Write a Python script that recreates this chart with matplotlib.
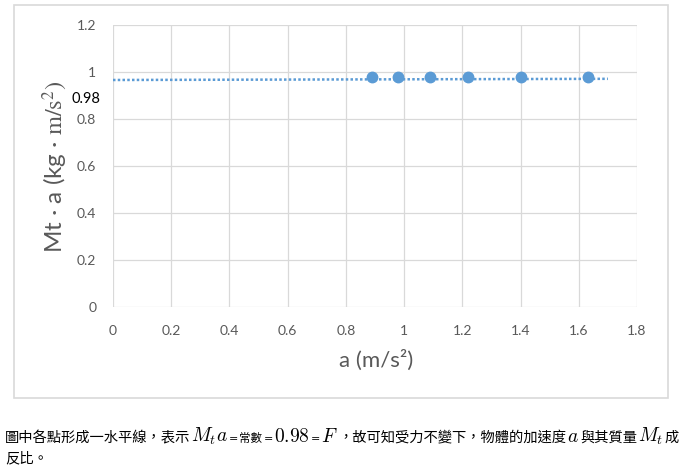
import matplotlib
matplotlib.use("Agg")
import matplotlib.pyplot as plt
from matplotlib.patches import Rectangle

# ---- data ----
accel = [0.89, 0.98, 1.09, 1.22, 1.40, 1.63]
force = [0.98, 0.98, 0.98, 0.98, 0.98, 0.98]
trend_x = [0.0, 1.7]
trend_y = [0.966, 0.971]
x_ticks = [0, 0.2, 0.4, 0.6, 0.8, 1.0, 1.2, 1.4, 1.6, 1.8]
x_tick_labels = ["0", "0.2", "0.4", "0.6", "0.8", "1", "1.2", "1.4", "1.6", "1.8"]
y_ticks = [0, 0.2, 0.4, 0.6, 0.8, 1.0, 1.2]
y_tick_labels = ["0", "0.2", "0.4", "0.6", "0.8", "1", "1.2"]
value_label = "0.98"
x_label = "a (m/s²)"
y_label = r"Mt · a (kg · $\mathrm{m/s^2)}$"
caption_line1 = [
    "圖中各點形成一水平線，表示", r"$M_t a$", "=", "常數", "=", r"$0.98$", "=",
    r"$F$", "，故可知受力不變下，物體的加速度", r"$a$", "與其質量", r"$M_t$", "成",
]
caption_line2 = ["反比。"]

W, H = 688, 468
fig = plt.figure(figsize=(W / 100, H / 100), dpi=100)
fig.patch.set_facecolor("white")

# outer chart frame
fig.add_artist(Rectangle((14 / W, 1 - 398 / H), (668 - 14) / W, (398 - 5) / H,
                         transform=fig.transFigure, facecolor="white",
                         edgecolor="#d9d9d9", linewidth=1.2, zorder=0))

ax = fig.add_axes([113 / W, 1 - 307 / H, (637 - 113) / W, (307 - 25) / H])
ax.set_facecolor("none")
ax.set_xlim(0, 1.8)
ax.set_ylim(0, 1.2)
ax.set_xticks(x_ticks)
ax.set_xticklabels(x_tick_labels)
ax.set_yticks(y_ticks)
ax.set_yticklabels(y_tick_labels)
for s in ax.spines.values():
    s.set_visible(False)
ax.grid(True, color="#d9d9d9", linewidth=0.9)
ax.set_axisbelow(True)
ax.tick_params(length=0, labelsize=10, labelcolor="#595959", pad=12)
for lab in ax.get_xticklabels() + ax.get_yticklabels():
    lab.set_family("Lato")
ax.tick_params(axis="x", pad=13)

blue = "#5b9bd5"
ax.plot(trend_x, trend_y, color=blue, linewidth=1.8, dashes=(1.0, 0.9), zorder=2)
ax.plot(accel, force, "o", color=blue, markersize=7.5, zorder=3, clip_on=False)

# value label
fig.text(86 / W, 1 - 99 / H, value_label, ha="center", va="center",
         fontsize=10.5, color="black", family="Lato")

# axis labels
fig.text(376 / W, 1 - 360 / H, x_label, ha="center", va="center",
         fontsize=16, color="#595959", family="Lato")
fig.text(55 / W, 1 - 167 / H, y_label, ha="center", va="center", rotation=90,
         fontsize=17.5, color="#595959", family="Lato", math_fontfamily="stix")

# caption built from pieces laid out left to right
renderer = fig.canvas.get_renderer()
CJK_FS = 10.3

def place_line(pieces, x0, baseline):
    x = x0
    prev_kind = None
    for txt in pieces:
        if txt.startswith("$"):
            kind = "math"
        elif txt == "=":
            kind = "eq"
        else:
            kind = "cjk"
        if prev_kind is not None:
            if kind == "eq" or prev_kind == "eq":
                x += 1
            elif kind == "math" or prev_kind == "math":
                x += 1
        if kind == "math":
            t = fig.text(x / W, 1 - baseline / H, txt, ha="left", va="baseline",
                         fontsize=14, color="black", math_fontfamily="cm")
        elif kind == "eq":
            t = fig.text(x / W, 1 - baseline / H, txt, ha="left", va="baseline",
                         fontsize=8, color="black", family="DejaVu Sans")
        else:
            fs = 8.3 if txt == "常數" else CJK_FS
            t = fig.text(x / W, 1 - baseline / H, txt, ha="left", va="baseline",
                         fontsize=fs, color="black",
                         family=["Noto Sans CJK TC", "DejaVu Sans"])
        x += t.get_window_extent(renderer).width
        prev_kind = kind

place_line(caption_line1, 5, 442)
place_line(caption_line2, 5, 462)

fig.savefig("out.png", dpi=100)
